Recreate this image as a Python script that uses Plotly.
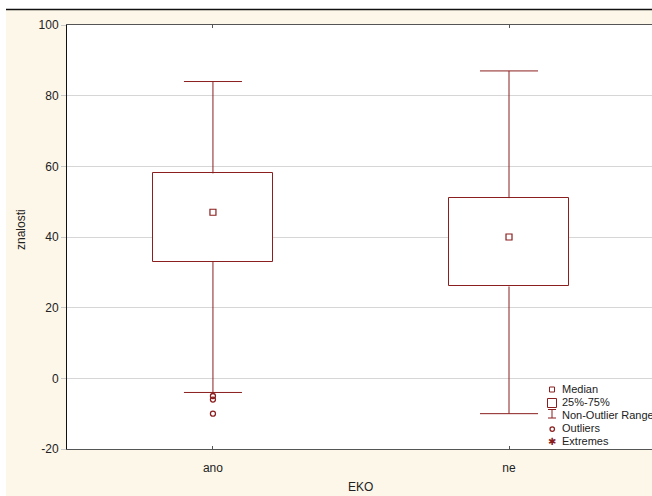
import plotly.graph_objects as go

# ---- data ----
categories = ["ano", "ne"]
q1 = [33, 26]
median = [47, 40]
q3 = [58, 51]
whisker_low = [-4, -10]
whisker_high = [84, 87]
outlier_cat = ["ano", "ano", "ano"]
outlier_val = [-5, -6, -10]
y_ticks = [-20, 0, 20, 40, 60, 80, 100]

# ---- style ----
RED = "#8b1f1f"
CREAM = "#fdf7e9"
W, H = 652, 496
L, R_, T, B = 67, 652, 25, 449
BOX_W = 0.405
CAP_HALF = 0.098

def px(xp):
    return (xp - L) / (R_ - L)

def py(yp):
    return (B - yp) / (B - T)

xpos = {c: i for i, c in enumerate(categories)}
xs = [xpos[c] for c in categories]

fig = go.Figure()

# boxes (25%-75%)
fig.add_trace(go.Bar(
    x=xs, y=[b - a for a, b in zip(q1, q3)], base=q1, width=BOX_W,
    marker=dict(color="white", line=dict(color=RED, width=1)),
    showlegend=False, hoverinfo="skip"))

# whiskers (non-outlier range) as line segments
wx, wy = [], []
for i in range(len(categories)):
    x0 = xs[i]
    wx += [x0, x0, None, x0 - CAP_HALF, x0 + CAP_HALF, None]
    wy += [q3[i], whisker_high[i], None, whisker_high[i], whisker_high[i], None]
    wx += [x0, x0, None, x0 - CAP_HALF, x0 + CAP_HALF, None]
    wy += [q1[i], whisker_low[i], None, whisker_low[i], whisker_low[i], None]
fig.add_trace(go.Scatter(
    x=wx, y=wy, mode="lines", line=dict(color=RED, width=1),
    showlegend=False, hoverinfo="skip"))

# medians
fig.add_trace(go.Scatter(
    x=xs, y=median, mode="markers",
    marker=dict(symbol="square-open", size=6, color=RED, line=dict(width=1.2)),
    showlegend=False, hoverinfo="skip"))

# outliers
fig.add_trace(go.Scatter(
    x=[xpos[c] for c in outlier_cat], y=outlier_val, mode="markers",
    marker=dict(symbol="circle-open", size=5, color=RED, line=dict(width=1.3)),
    showlegend=False, hoverinfo="skip"))

shapes = []
shapes.append(dict(type="rect", xref="paper", yref="paper", x0=px(-5), x1=px(700),
                   y0=py(9), y1=py(-5), fillcolor="white", line=dict(width=0)))
shapes.append(dict(type="rect", xref="paper", yref="paper", x0=px(-5), x1=px(6),
                   y0=py(500), y1=py(-5), fillcolor="white", line=dict(width=0)))
shapes.append(dict(type="line", xref="paper", yref="paper", x0=px(6), x1=px(700),
                   y0=py(9.5), y1=py(9.5), line=dict(color="#111", width=1.5)))

# legend glyphs
shapes.append(dict(type="rect", xref="paper", yref="paper", x0=px(549.5), x1=px(554.5),
                   y0=py(392), y1=py(387), line=dict(color=RED, width=1)))
shapes.append(dict(type="rect", xref="paper", yref="paper", x0=px(547.5), x1=px(556.5),
                   y0=py(407.5), y1=py(398.5), line=dict(color=RED, width=1)))
shapes.append(dict(type="line", xref="paper", yref="paper", x0=px(552), x1=px(552),
                   y0=py(418), y1=py(409.5), line=dict(color=RED, width=1)))
shapes.append(dict(type="line", xref="paper", yref="paper", x0=px(548), x1=px(556),
                   y0=py(409.5), y1=py(409.5), line=dict(color=RED, width=1)))
shapes.append(dict(type="line", xref="paper", yref="paper", x0=px(548), x1=px(556),
                   y0=py(418), y1=py(418), line=dict(color=RED, width=1)))
shapes.append(dict(type="circle", xref="paper", yref="paper", x0=px(550), x1=px(554.5),
                   y0=py(431.3), y1=py(426.8), line=dict(color=RED, width=1.2)))

annotations = []
legend_items = ["Median", "25%-75%", "Non-Outlier Range", "Outliers", "Extremes"]
legend_y = [389, 402, 415, 428, 441]
for t, yy in zip(legend_items, legend_y):
    annotations.append(dict(text=t, xref="paper", yref="paper", x=px(559.5), y=py(yy),
                            xanchor="left", yanchor="middle", showarrow=False,
                            font=dict(size=11, color="#222", family="Liberation Sans, Arial")))
annotations.append(dict(text="✱", xref="paper", yref="paper", x=px(552), y=py(441),
                        xanchor="center", yanchor="middle", showarrow=False,
                        font=dict(size=10, color=RED, family="DejaVu Sans")))
annotations.append(dict(text="znalosti", xref="paper", yref="paper", x=px(21), y=py(230),
                        xanchor="center", yanchor="middle", textangle=-90, showarrow=False,
                        font=dict(size=12, color="#222", family="Liberation Sans, Arial")))
annotations.append(dict(text="EKO", xref="paper", yref="paper", x=px(360), y=py(487),
                        xanchor="center", yanchor="middle", showarrow=False,
                        font=dict(size=12, color="#222", family="Liberation Sans, Arial")))

fig.update_layout(
    width=W, height=H,
    margin=dict(l=L, r=W - R_, t=T, b=H - B, pad=0),
    paper_bgcolor=CREAM, plot_bgcolor="white",
    font=dict(family="Liberation Sans, Arial", size=12, color="#222"),
    shapes=shapes, annotations=annotations,
    xaxis=dict(range=[-0.493, 1.483], tickvals=xs, ticktext=categories,
               showgrid=False, zeroline=False, showline=True, linecolor="#555",
               linewidth=1, mirror="ticks", ticks="inside", ticklen=3, tickcolor="#555",
               ticklabelstandoff=8, fixedrange=True),
    yaxis=dict(range=[-20, 100], tickvals=y_ticks, ticktext=[str(v) for v in y_ticks],
               showgrid=True, gridcolor="#d6d6d6",
               zeroline=False, showline=True, linecolor="#111", linewidth=1, mirror=True,
               ticks="outside", ticklen=5, tickcolor="#c8c8c8", fixedrange=True),
    bargap=0, showlegend=False,
)

fig.write_html("out.html", config={"displayModeBar": False},
               post_script="document.body.style.margin='0';document.body.style.overflow='hidden';")
